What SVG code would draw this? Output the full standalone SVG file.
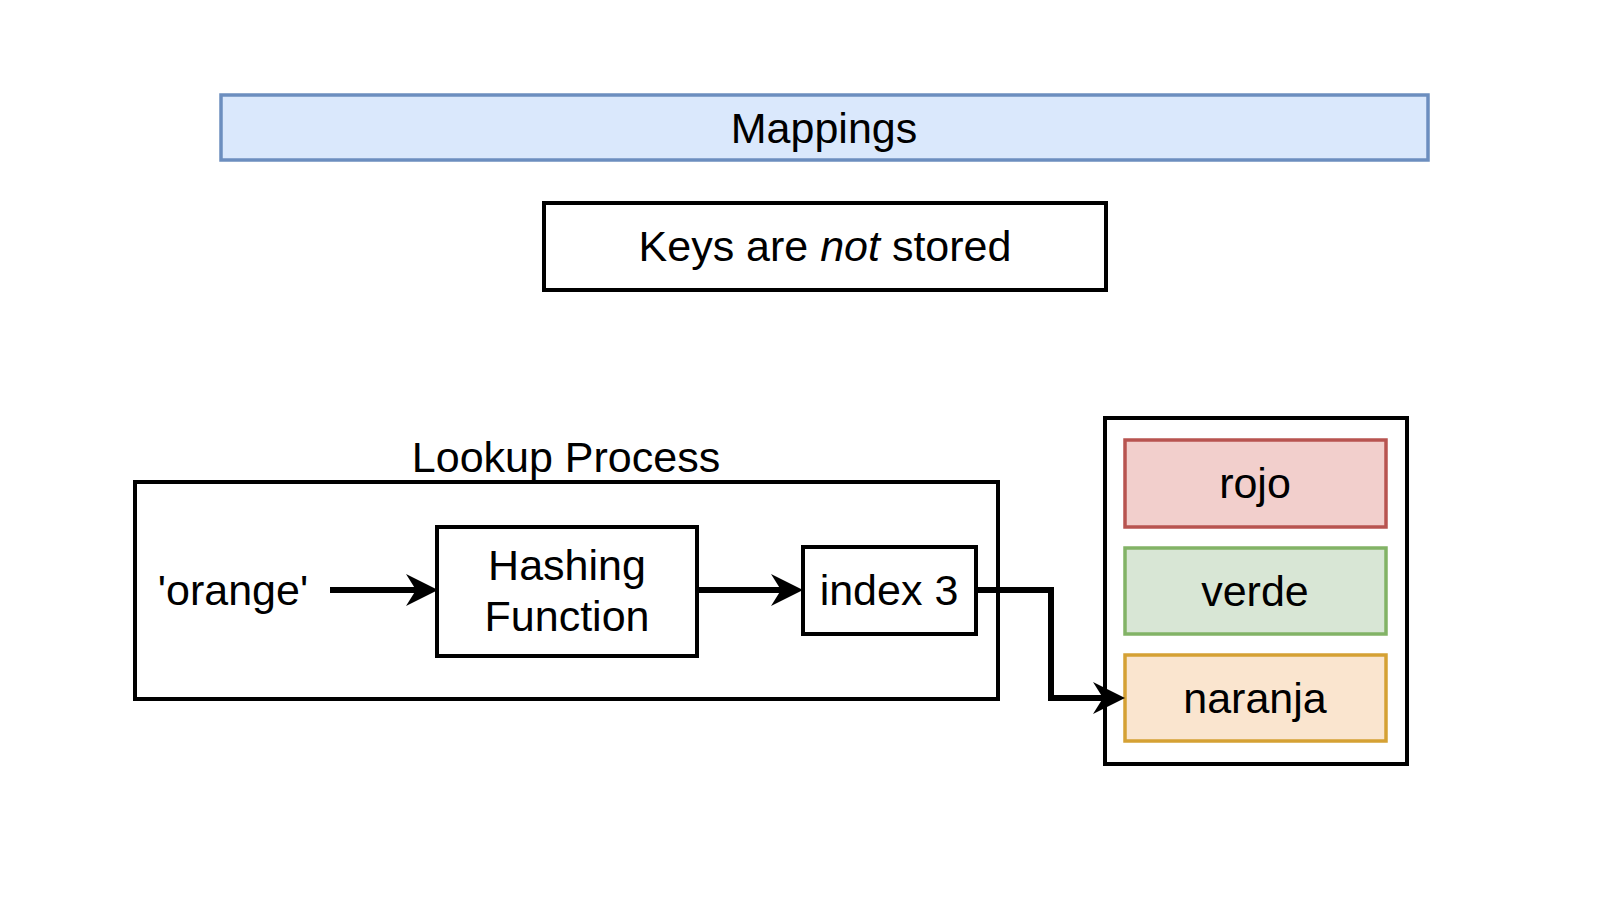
<svg xmlns="http://www.w3.org/2000/svg" width="1616" height="920" viewBox="0 0 1616 920">
<style>
text{font-family:"Liberation Sans",Arial,Helvetica,sans-serif;font-size:43px;fill:#000;text-anchor:middle}
.box{fill:#fff;stroke:#000;stroke-width:4}
.conn{fill:none;stroke:#000;stroke-width:6}
</style>
<defs>
<marker id="arr" viewBox="0 0 32 32" refX="12" refY="16" markerWidth="32" markerHeight="32" markerUnits="userSpaceOnUse" orient="auto">
<path d="M0,0 L32,16 L0,32 L10,16 Z" fill="#000"/>
</marker>
</defs>
<rect width="1616" height="920" fill="#fff"/>
<g id="mappings">
<rect x="221" y="95" width="1207" height="65" fill="#dae8fc" stroke="#6c8ebf" stroke-width="3.5"/>
<text x="824" y="143">Mappings</text>
</g>
<g id="keys-not-stored">
<rect class="box" x="544" y="203" width="562" height="87"/>
<text x="825" y="261">Keys are <tspan font-style="italic">not</tspan> stored</text>
</g>
<g id="lookup-process">
<rect class="box" x="135" y="482" width="863" height="217"/>
<text x="566" y="472">Lookup Process</text>
</g>
<g id="orange">
<text x="233" y="605">'orange'</text>
</g>
<g id="hashing-function">
<rect class="box" x="437" y="527" width="260" height="129"/>
<text x="567" y="580">Hashing</text>
<text x="567" y="631">Function</text>
</g>
<g id="index3">
<rect class="box" x="803" y="547" width="173" height="87"/>
<text x="889" y="605">index 3</text>
</g>
<g id="array">
<rect class="box" x="1105" y="418" width="302" height="346"/>
</g>
<g id="rojo">
<rect x="1125" y="440" width="261" height="87" fill="#f2cfcc" stroke="#b85450" stroke-width="3.5"/>
<text x="1255" y="498">rojo</text>
</g>
<g id="verde">
<rect x="1125" y="548" width="261" height="86" fill="#d8e6d5" stroke="#82b366" stroke-width="3.5"/>
<text x="1255" y="606">verde</text>
</g>
<g id="naranja">
<rect x="1125" y="655" width="261" height="86" fill="#fae5cf" stroke="#d5a134" stroke-width="3.5"/>
<text x="1255" y="713">naranja</text>
</g>
<g id="connectors">
<path class="conn" d="M330,590 L418,590" marker-end="url(#arr)"/>
<path class="conn" d="M697,590 L783,590" marker-end="url(#arr)"/>
<path class="conn" d="M976,590 L1051,590 L1051,698 L1105,698" marker-end="url(#arr)"/>
</g>
</svg>
